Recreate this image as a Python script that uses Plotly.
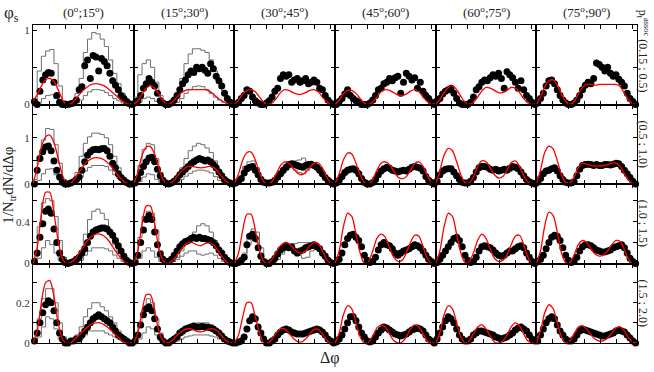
import numpy as np
import plotly.graph_objects as go
from plotly.subplots import make_subplots

PHI_S_BINS = [
    "(0<sup>o</sup>;15<sup>o</sup>)", "(15<sup>o</sup>;30<sup>o</sup>)", "(30<sup>o</sup>;45<sup>o</sup>)",
    "(45<sup>o</sup>;60<sup>o</sup>)", "(60<sup>o</sup>;75<sup>o</sup>)", "(75<sup>o</sup>;90<sup>o</sup>)",
]
PT_BINS = ["p<sub>t</sub><sup>assoc</sup> (0.15 ; 0.5)", "(0.5 ; 1.0)", "(1.0 ; 1.5)", "(1.5 ; 2.0)"]

Y_TOP = [1.07, 1.72, 0.76, 0.395]
Y_DTICK = [1.0, 1.0, 0.4, 0.2]      # labelled ticks
Y_MINOR = [0.5, 0.5, 0.2, 0.1]      # unlabelled ticks

# Δφ axis: from -1 to 2π-1 rad
DPHI_LO = -1.0
DPHI_HI = 2 * np.pi - 1.0
N_DOTS = 36
N_CURVE = 25
N_BAND = 24

# ---- data points (36 Δφ bins per panel) ----
DOTS_ROW1 = [
    [0.04, 0.0, 0.18, 0.33, 0.40, 0.43, 0.42, 0.30, 0.12, 0.03, 0.0, 0.0, 0.0, 0.01, 0.02, 0.06, 0.20, 0.24,
     0.52, 0.60, 0.35, 0.66, 0.64, 0.45, 0.62, 0.58, 0.52, 0.42, 0.32, 0.26, 0.20, 0.12, 0.08, 0.04, 0.01, 0.0],
    [0.02, 0.05, 0.12, 0.22, 0.28, 0.35, 0.3, 0.25, 0.15, 0.05, 0.02, 0.0, 0.0, 0.02, 0.06, 0.12, 0.2, 0.28,
     0.33, 0.4, 0.45, 0.43, 0.5, 0.48, 0.5, 0.46, 0.42, 0.55, 0.48, 0.38, 0.32, 0.25, 0.15, 0.08, 0.03, 0.0],
    [0.0, 0.03, 0.08, 0.12, 0.2, 0.18, 0.1, 0.05, 0.02, 0.0, 0.0, 0.02, 0.05, 0.1, 0.18, 0.22, 0.35, 0.4,
     0.38, 0.4, 0.3, 0.33, 0.35, 0.3, 0.32, 0.35, 0.28, 0.3, 0.33, 0.3, 0.22, 0.2, 0.12, 0.06, 0.02, 0.0],
    [0.0, 0.04, 0.08, 0.14, 0.2, 0.12, 0.08, 0.05, 0.03, 0.0, 0.0, 0.0, 0.02, 0.06, 0.12, 0.2, 0.22, 0.28,
     0.3, 0.35, 0.32, 0.36, 0.38, 0.15, 0.3, 0.42, 0.38, 0.33, 0.36, 0.22, 0.3, 0.18, 0.12, 0.08, 0.03, 0.0],
    [0.05, 0.08, 0.14, 0.18, 0.2, 0.22, 0.15, 0.08, 0.02, 0.0, 0.0, 0.0, 0.03, 0.1, 0.2, 0.24, 0.3, 0.33,
     0.32, 0.36, 0.4, 0.38, 0.42, 0.35, 0.22, 0.44, 0.4, 0.36, 0.3, 0.22, 0.32, 0.2, 0.12, 0.08, 0.03, 0.0],
    [0.02, 0.08, 0.15, 0.25, 0.32, 0.33, 0.28, 0.2, 0.12, 0.06, 0.02, 0.0, 0.0, 0.02, 0.06, 0.12, 0.2, 0.26,
     0.3, 0.28, 0.35, 0.56, 0.54, 0.5, 0.45, 0.5, 0.42, 0.38, 0.4, 0.34, 0.3, 0.25, 0.15, 0.08, 0.04, 0.0],
]
DOTS_ROW2 = [
    [0.0, 0.3, 0.55, 0.7, 0.8, 0.82, 0.72, 0.5, 0.3, 0.15, 0.04, 0.0, 0.0, 0.02, 0.05, 0.1, 0.15, 0.3,
     0.48, 0.62, 0.7, 0.74, 0.75, 0.74, 0.76, 0.77, 0.72, 0.6, 0.45, 0.35, 0.22, 0.14, 0.08, 0.03, 0.0, 0.0],
    [0.02, 0.12, 0.25, 0.38, 0.48, 0.56, 0.58, 0.48, 0.32, 0.18, 0.08, 0.02, 0.0, 0.02, 0.06, 0.12, 0.2, 0.26,
     0.32, 0.38, 0.44, 0.48, 0.52, 0.55, 0.53, 0.5, 0.52, 0.48, 0.42, 0.35, 0.26, 0.18, 0.1, 0.05, 0.02, 0.0],
    [0.02, 0.06, 0.12, 0.24, 0.33, 0.36, 0.38, 0.3, 0.2, 0.1, 0.04, 0.02, 0.02, 0.04, 0.08, 0.15, 0.22, 0.3,
     0.36, 0.42, 0.44, 0.42, 0.4, 0.38, 0.36, 0.4, 0.42, 0.43, 0.4, 0.36, 0.3, 0.22, 0.14, 0.08, 0.03, 0.0],
    [0.02, 0.08, 0.16, 0.25, 0.3, 0.32, 0.33, 0.3, 0.22, 0.12, 0.04, 0.0, 0.0, 0.03, 0.1, 0.2, 0.28, 0.33,
     0.36, 0.34, 0.3, 0.28, 0.26, 0.28, 0.3, 0.28, 0.32, 0.36, 0.38, 0.36, 0.34, 0.28, 0.16, 0.08, 0.03, 0.0],
    [0.06, 0.2, 0.28, 0.32, 0.33, 0.33, 0.26, 0.18, 0.1, 0.04, 0.02, 0.02, 0.06, 0.14, 0.26, 0.35, 0.38, 0.38,
     0.36, 0.32, 0.3, 0.32, 0.28, 0.3, 0.32, 0.3, 0.34, 0.38, 0.36, 0.33, 0.26, 0.18, 0.1, 0.05, 0.02, 0.0],
    [0.04, 0.12, 0.22, 0.28, 0.3, 0.33, 0.35, 0.28, 0.18, 0.1, 0.04, 0.02, 0.02, 0.05, 0.18, 0.32, 0.4, 0.42,
     0.43, 0.42, 0.4, 0.42, 0.4, 0.4, 0.42, 0.42, 0.41, 0.43, 0.45, 0.44, 0.38, 0.3, 0.22, 0.14, 0.06, 0.0],
]
DOTS_ROW3 = [
    [0.02, 0.1, 0.25, 0.38, 0.5, 0.52, 0.48, 0.33, 0.2, 0.1, 0.04, 0.01, 0.0, 0.01, 0.02, 0.04, 0.06, 0.1,
     0.14, 0.2, 0.26, 0.3, 0.32, 0.33, 0.34, 0.34, 0.33, 0.3, 0.27, 0.22, 0.17, 0.12, 0.07, 0.03, 0.01, 0.0],
    [0.01, 0.08, 0.2, 0.32, 0.42, 0.46, 0.42, 0.3, 0.18, 0.09, 0.04, 0.02, 0.02, 0.04, 0.08, 0.12, 0.16, 0.19,
     0.21, 0.22, 0.24, 0.25, 0.24, 0.25, 0.24, 0.24, 0.23, 0.22, 0.2, 0.17, 0.13, 0.1, 0.06, 0.03, 0.01, 0.0],
    [0.0, 0.01, 0.03, 0.06, 0.18, 0.26, 0.28, 0.24, 0.15, 0.07, 0.02, 0.0, 0.0, 0.02, 0.05, 0.09, 0.13, 0.15,
     0.17, 0.15, 0.16, 0.12, 0.1, 0.12, 0.13, 0.15, 0.16, 0.17, 0.18, 0.16, 0.14, 0.1, 0.07, 0.03, 0.01, 0.0],
    [0.01, 0.04, 0.1, 0.18, 0.24, 0.27, 0.28, 0.25, 0.22, 0.16, 0.08, 0.03, 0.01, 0.02, 0.06, 0.13, 0.18, 0.2,
     0.18, 0.17, 0.14, 0.1, 0.08, 0.1, 0.12, 0.13, 0.14, 0.16, 0.18, 0.17, 0.15, 0.12, 0.08, 0.04, 0.02, 0.0],
    [0.01, 0.04, 0.08, 0.12, 0.16, 0.2, 0.24, 0.25, 0.22, 0.16, 0.08, 0.03, 0.01, 0.02, 0.06, 0.12, 0.16, 0.17,
     0.16, 0.15, 0.13, 0.1, 0.08, 0.07, 0.08, 0.1, 0.12, 0.12, 0.14, 0.16, 0.17, 0.15, 0.1, 0.06, 0.02, 0.0],
    [0.02, 0.04, 0.08, 0.14, 0.2, 0.25, 0.27, 0.26, 0.22, 0.15, 0.08, 0.03, 0.01, 0.02, 0.06, 0.12, 0.16, 0.18,
     0.18, 0.17, 0.15, 0.13, 0.12, 0.11, 0.11, 0.12, 0.13, 0.15, 0.16, 0.17, 0.18, 0.15, 0.1, 0.05, 0.02, 0.0],
]
DOTS_ROW4 = [
    [0.01, 0.05, 0.1, 0.15, 0.19, 0.21, 0.2, 0.16, 0.1, 0.05, 0.02, 0.0, 0.0, 0.01, 0.01, 0.02, 0.02, 0.04,
     0.06, 0.08, 0.1, 0.12, 0.13, 0.14, 0.13, 0.12, 0.11, 0.1, 0.08, 0.06, 0.04, 0.03, 0.02, 0.01, 0.0, 0.0],
    [0.01, 0.04, 0.09, 0.14, 0.17, 0.18, 0.16, 0.12, 0.07, 0.03, 0.01, 0.0, 0.0, 0.01, 0.02, 0.03, 0.05, 0.06,
     0.07, 0.075, 0.08, 0.085, 0.08, 0.08, 0.082, 0.08, 0.078, 0.075, 0.07, 0.06, 0.05, 0.035, 0.02, 0.01, 0.005, 0.0],
    [0.0, 0.005, 0.01, 0.03, 0.07, 0.11, 0.13, 0.12, 0.08, 0.05, 0.02, 0.0, 0.0, 0.01, 0.02, 0.04, 0.055, 0.065,
     0.07, 0.065, 0.055, 0.05, 0.045, 0.045, 0.045, 0.05, 0.055, 0.06, 0.065, 0.07, 0.065, 0.055, 0.04, 0.02, 0.01, 0.0],
    [0.005, 0.02, 0.04, 0.07, 0.1, 0.13, 0.13, 0.11, 0.08, 0.05, 0.03, 0.01, 0.005, 0.01, 0.03, 0.05, 0.065, 0.08,
     0.075, 0.065, 0.055, 0.045, 0.04, 0.035, 0.04, 0.045, 0.055, 0.065, 0.07, 0.075, 0.07, 0.06, 0.04, 0.02, 0.01, 0.0],
    [0.02, 0.05, 0.08, 0.11, 0.13, 0.12, 0.1, 0.07, 0.04, 0.02, 0.01, 0.01, 0.02, 0.04, 0.05, 0.06, 0.06, 0.055,
     0.05, 0.045, 0.04, 0.03, 0.025, 0.02, 0.025, 0.03, 0.04, 0.05, 0.065, 0.075, 0.08, 0.07, 0.06, 0.04, 0.02, 0.01],
    [0.01, 0.04, 0.07, 0.1, 0.12, 0.13, 0.12, 0.09, 0.06, 0.04, 0.02, 0.01, 0.01, 0.02, 0.04, 0.06, 0.07, 0.065,
     0.06, 0.055, 0.05, 0.045, 0.04, 0.035, 0.035, 0.04, 0.045, 0.05, 0.06, 0.065, 0.06, 0.055, 0.04, 0.025, 0.01, 0.0],
]

# ---- model curves (red), 25 points per panel ----
RED_ROW1 = [
    [0.05, 0.13, 0.25, 0.33, 0.35, 0.31, 0.2, 0.07, 0.0, 0.01, 0.06, 0.13, 0.19, 0.24, 0.27, 0.28, 0.27, 0.25, 0.21, 0.16, 0.11, 0.06, 0.02, 0.0, 0.02],
    [0.0, 0.05, 0.14, 0.22, 0.25, 0.22, 0.14, 0.05, 0.0, 0.02, 0.08, 0.14, 0.18, 0.2, 0.2, 0.2, 0.2, 0.2, 0.18, 0.14, 0.09, 0.05, 0.02, 0.0, 0.02],
    [0.0, 0.06, 0.14, 0.19, 0.2, 0.17, 0.1, 0.03, 0.0, 0.02, 0.08, 0.16, 0.2, 0.19, 0.16, 0.14, 0.14, 0.16, 0.19, 0.2, 0.17, 0.1, 0.04, 0.0, 0.01],
    [0.0, 0.06, 0.14, 0.19, 0.19, 0.15, 0.08, 0.02, 0.0, 0.03, 0.1, 0.17, 0.2, 0.19, 0.16, 0.13, 0.12, 0.14, 0.18, 0.2, 0.17, 0.1, 0.04, 0.0, 0.02],
    [0.0, 0.07, 0.16, 0.23, 0.25, 0.2, 0.11, 0.03, 0.0, 0.03, 0.1, 0.18, 0.23, 0.22, 0.19, 0.16, 0.16, 0.19, 0.23, 0.22, 0.16, 0.08, 0.02, 0.0, 0.02],
    [0.0, 0.1, 0.24, 0.32, 0.33, 0.26, 0.14, 0.04, 0.0, 0.04, 0.14, 0.23, 0.27, 0.27, 0.26, 0.27, 0.27, 0.27, 0.27, 0.27, 0.24, 0.15, 0.06, 0.01, 0.0],
]
RED_ROW2 = [
    [0.0, 0.35, 0.8, 1.02, 1.06, 0.9, 0.55, 0.2, 0.02, 0.02, 0.12, 0.26, 0.39, 0.49, 0.55, 0.57, 0.56, 0.52, 0.44, 0.34, 0.22, 0.11, 0.03, 0.0, 0.0],
    [0.0, 0.25, 0.62, 0.8, 0.81, 0.65, 0.35, 0.1, 0.0, 0.03, 0.12, 0.24, 0.33, 0.38, 0.38, 0.36, 0.35, 0.36, 0.38, 0.36, 0.28, 0.16, 0.06, 0.01, 0.0],
    [0.0, 0.22, 0.52, 0.68, 0.69, 0.52, 0.25, 0.05, 0.0, 0.06, 0.22, 0.4, 0.48, 0.45, 0.35, 0.24, 0.2, 0.25, 0.36, 0.45, 0.46, 0.35, 0.15, 0.02, 0.0],
    [0.0, 0.22, 0.52, 0.67, 0.65, 0.45, 0.2, 0.03, 0.0, 0.1, 0.3, 0.45, 0.48, 0.42, 0.28, 0.15, 0.11, 0.16, 0.3, 0.44, 0.48, 0.38, 0.18, 0.03, 0.0],
    [0.0, 0.28, 0.62, 0.77, 0.72, 0.48, 0.2, 0.03, 0.02, 0.15, 0.38, 0.5, 0.48, 0.35, 0.2, 0.13, 0.16, 0.3, 0.46, 0.5, 0.38, 0.18, 0.04, 0.0, 0.0],
    [0.0, 0.3, 0.68, 0.82, 0.76, 0.5, 0.2, 0.03, 0.02, 0.15, 0.36, 0.45, 0.43, 0.4, 0.39, 0.39, 0.4, 0.42, 0.45, 0.45, 0.38, 0.22, 0.08, 0.02, 0.0],
]
RED_ROW3 = [
    [0.0, 0.15, 0.48, 0.68, 0.68, 0.48, 0.22, 0.05, 0.0, 0.01, 0.04, 0.1, 0.16, 0.22, 0.26, 0.28, 0.28, 0.26, 0.22, 0.16, 0.1, 0.05, 0.01, 0.0, 0.0],
    [0.0, 0.12, 0.38, 0.55, 0.55, 0.38, 0.15, 0.03, 0.0, 0.02, 0.06, 0.12, 0.17, 0.2, 0.2, 0.18, 0.17, 0.19, 0.2, 0.18, 0.13, 0.07, 0.02, 0.0, 0.0],
    [0.0, 0.1, 0.32, 0.47, 0.47, 0.32, 0.13, 0.02, 0.0, 0.04, 0.11, 0.17, 0.2, 0.19, 0.15, 0.11, 0.1, 0.12, 0.17, 0.2, 0.19, 0.12, 0.04, 0.0, 0.0],
    [0.0, 0.12, 0.35, 0.48, 0.45, 0.28, 0.1, 0.0, 0.02, 0.12, 0.24, 0.28, 0.25, 0.15, 0.06, 0.02, 0.03, 0.1, 0.2, 0.27, 0.26, 0.16, 0.05, 0.0, 0.0],
    [0.0, 0.12, 0.35, 0.48, 0.45, 0.28, 0.1, 0.01, 0.02, 0.1, 0.22, 0.28, 0.24, 0.14, 0.05, 0.02, 0.03, 0.08, 0.18, 0.26, 0.27, 0.18, 0.06, 0.0, 0.0],
    [0.0, 0.12, 0.36, 0.49, 0.46, 0.3, 0.1, 0.01, 0.01, 0.08, 0.18, 0.22, 0.2, 0.14, 0.09, 0.07, 0.08, 0.12, 0.18, 0.22, 0.21, 0.13, 0.04, 0.0, 0.0],
]
RED_ROW4 = [
    [0.0, 0.06, 0.2, 0.3, 0.31, 0.23, 0.1, 0.02, 0.0, 0.0, 0.02, 0.04, 0.06, 0.08, 0.095, 0.1, 0.1, 0.09, 0.075, 0.055, 0.035, 0.015, 0.0, 0.0, 0.0],
    [0.0, 0.05, 0.16, 0.24, 0.24, 0.16, 0.06, 0.01, 0.0, 0.01, 0.03, 0.05, 0.065, 0.072, 0.068, 0.058, 0.055, 0.06, 0.07, 0.07, 0.058, 0.035, 0.012, 0.0, 0.0],
    [0.0, 0.04, 0.13, 0.2, 0.2, 0.13, 0.05, 0.0, 0.0, 0.02, 0.05, 0.07, 0.07, 0.05, 0.025, 0.008, 0.005, 0.02, 0.045, 0.068, 0.068, 0.045, 0.015, 0.0, 0.0],
    [0.0, 0.05, 0.14, 0.185, 0.17, 0.1, 0.03, 0.0, 0.005, 0.035, 0.075, 0.09, 0.08, 0.045, 0.012, 0.0, 0.005, 0.03, 0.07, 0.09, 0.08, 0.045, 0.01, 0.0, 0.0],
    [0.0, 0.05, 0.14, 0.185, 0.17, 0.1, 0.03, 0.0, 0.01, 0.045, 0.08, 0.09, 0.07, 0.035, 0.005, 0.0, 0.01, 0.04, 0.08, 0.1, 0.085, 0.045, 0.01, 0.0, 0.0],
    [0.0, 0.06, 0.15, 0.19, 0.17, 0.1, 0.03, 0.0, 0.01, 0.045, 0.08, 0.085, 0.07, 0.04, 0.02, 0.01, 0.012, 0.025, 0.05, 0.075, 0.08, 0.06, 0.025, 0.005, 0.0],
]

# ---- systematic bands (gray steps, 24 bins), None where not drawn ----
BAND_HI_ROW1 = [
    [0.05, 0.45, 0.65, 0.72, 0.74, 0.55, 0.25, 0.05, 0.0, 0.02, 0.15, 0.35, 0.7, 0.88, 0.97, 0.95, 0.88, 0.78, 0.6, 0.42, 0.28, 0.15, 0.06, 0.02],
    [0.1, 0.4, 0.55, 0.6, 0.5, 0.3, 0.12, 0.02, 0.0, 0.03, 0.15, 0.35, 0.55, 0.68, 0.75, 0.75, 0.73, 0.7, 0.6, 0.45, 0.3, 0.18, 0.07, 0.02],
    None, None, None, None,
]
BAND_LO_ROW1 = [
    [0.0, 0.02, 0.08, 0.12, 0.13, 0.08, 0.03, 0.0, 0.0, 0.0, 0.02, 0.06, 0.12, 0.17, 0.2, 0.2, 0.19, 0.16, 0.12, 0.08, 0.05, 0.02, 0.0, 0.0],
    [0.0, 0.03, 0.08, 0.1, 0.08, 0.04, 0.0, 0.0, 0.0, 0.0, 0.03, 0.08, 0.15, 0.2, 0.24, 0.25, 0.24, 0.2, 0.15, 0.1, 0.06, 0.03, 0.0, 0.0],
    None, None, None, None,
]
BAND_HI_ROW2 = [
    [0.1, 0.6, 0.95, 1.2, 1.18, 0.85, 0.45, 0.1, 0.0, 0.05, 0.25, 0.6, 0.88, 1.02, 1.1, 1.1, 1.07, 1.0, 0.85, 0.6, 0.35, 0.15, 0.05, 0.0],
    [0.05, 0.4, 0.75, 0.88, 0.85, 0.55, 0.25, 0.05, 0.0, 0.03, 0.15, 0.35, 0.55, 0.72, 0.82, 0.88, 0.85, 0.78, 0.68, 0.5, 0.3, 0.15, 0.05, 0.0],
    [0.03, 0.15, 0.38, 0.48, 0.5, 0.35, 0.15, 0.03, 0.02, 0.05, 0.15, 0.3, 0.42, 0.48, 0.5, 0.52, 0.56, 0.45, 0.43, 0.38, 0.3, 0.16, 0.06, 0.0],
    None, None, None,
]
BAND_LO_ROW2 = [
    [0.0, 0.08, 0.22, 0.32, 0.33, 0.2, 0.08, 0.0, 0.0, 0.0, 0.05, 0.15, 0.28, 0.36, 0.4, 0.4, 0.4, 0.38, 0.3, 0.2, 0.12, 0.05, 0.02, 0.0],
    [0.0, 0.05, 0.15, 0.22, 0.2, 0.1, 0.03, 0.0, 0.0, 0.0, 0.03, 0.1, 0.17, 0.23, 0.28, 0.3, 0.3, 0.28, 0.24, 0.16, 0.08, 0.03, 0.0, 0.0],
    [0.0, 0.08, 0.2, 0.3, 0.33, 0.25, 0.1, 0.02, 0.0, 0.03, 0.1, 0.22, 0.3, 0.35, 0.3, 0.25, 0.22, 0.3, 0.38, 0.33, 0.25, 0.12, 0.04, 0.0],
    None, None, None,
]
BAND_HI_ROW3 = [
    [0.05, 0.35, 0.58, 0.62, 0.6, 0.45, 0.22, 0.06, 0.0, 0.01, 0.04, 0.12, 0.28, 0.42, 0.5, 0.52, 0.48, 0.42, 0.3, 0.18, 0.1, 0.04, 0.01, 0.0],
    [0.02, 0.25, 0.45, 0.5, 0.48, 0.32, 0.12, 0.03, 0.0, 0.02, 0.06, 0.12, 0.18, 0.25, 0.3, 0.36, 0.38, 0.36, 0.3, 0.22, 0.12, 0.05, 0.01, 0.0],
    [0.0, 0.03, 0.1, 0.28, 0.33, 0.3, 0.15, 0.04, 0.0, 0.02, 0.07, 0.12, 0.16, 0.18, 0.19, 0.2, 0.2, 0.2, 0.18, 0.18, 0.15, 0.1, 0.03, 0.0],
    None, None, None,
]
BAND_LO_ROW3 = [
    [0.0, 0.05, 0.15, 0.22, 0.18, 0.1, 0.03, 0.0, 0.0, 0.0, 0.01, 0.03, 0.08, 0.12, 0.15, 0.15, 0.15, 0.14, 0.12, 0.08, 0.05, 0.02, 0.0, 0.0],
    [0.0, 0.05, 0.12, 0.15, 0.12, 0.06, 0.02, 0.0, 0.0, 0.02, 0.04, 0.07, 0.1, 0.12, 0.12, 0.09, 0.08, 0.09, 0.1, 0.08, 0.05, 0.02, 0.0, 0.0],
    [0.0, 0.01, 0.04, 0.18, 0.24, 0.2, 0.1, 0.02, 0.0, 0.01, 0.04, 0.09, 0.13, 0.14, 0.12, 0.08, 0.05, 0.06, 0.12, 0.15, 0.13, 0.08, 0.02, 0.0],
    None, None, None,
]
BAND_HI_ROW4 = [
    [0.02, 0.12, 0.22, 0.27, 0.27, 0.2, 0.1, 0.03, 0.0, 0.01, 0.04, 0.08, 0.13, 0.17, 0.2, 0.2, 0.18, 0.16, 0.13, 0.1, 0.06, 0.03, 0.01, 0.0],
    [0.02, 0.1, 0.17, 0.22, 0.2, 0.12, 0.05, 0.01, 0.0, 0.01, 0.02, 0.04, 0.06, 0.08, 0.09, 0.1, 0.1, 0.1, 0.09, 0.07, 0.05, 0.03, 0.01, 0.0],
    None, None, None, None,
]
BAND_LO_ROW4 = [
    [0.0, 0.03, 0.08, 0.13, 0.12, 0.07, 0.02, 0.0, 0.0, 0.0, 0.01, 0.02, 0.04, 0.06, 0.06, 0.06, 0.06, 0.05, 0.04, 0.03, 0.02, 0.01, 0.0, 0.0],
    [0.0, 0.02, 0.05, 0.08, 0.07, 0.04, 0.01, 0.0, 0.0, 0.0, 0.01, 0.02, 0.03, 0.035, 0.04, 0.04, 0.04, 0.04, 0.035, 0.03, 0.02, 0.01, 0.0, 0.0],
    None, None, None, None,
]

DOTS = [DOTS_ROW1, DOTS_ROW2, DOTS_ROW3, DOTS_ROW4]
RED = [RED_ROW1, RED_ROW2, RED_ROW3, RED_ROW4]
BAND_HI = [BAND_HI_ROW1, BAND_HI_ROW2, BAND_HI_ROW3, BAND_HI_ROW4]
BAND_LO = [BAND_LO_ROW1, BAND_LO_ROW2, BAND_LO_ROW3, BAND_LO_ROW4]

bin_w = (DPHI_HI - DPHI_LO) / N_DOTS
x_dots = DPHI_LO + (np.arange(N_DOTS) + 0.5) * bin_w
x_curve = np.linspace(DPHI_LO, DPHI_HI, N_CURVE)
x_edges = np.linspace(DPHI_LO, DPHI_HI, N_BAND + 1)

SERIF = "Liberation Serif"

fig = make_subplots(rows=4, cols=6, horizontal_spacing=0, vertical_spacing=0)

for r in range(4):
    for c in range(6):
        hi = BAND_HI[r][c]
        lo = BAND_LO[r][c]
        if hi is not None:
            for band in (hi, lo):
                fig.add_trace(go.Scatter(
                    x=x_edges, y=list(band) + [band[-1]],
                    mode="lines", line=dict(color="#6e6e6e", width=1, shape="hv"),
                    showlegend=False, hoverinfo="skip",
                ), row=r + 1, col=c + 1)
        fig.add_trace(go.Scatter(
            x=x_dots, y=DOTS[r][c], mode="markers",
            marker=dict(color="black", size=7),
            cliponaxis=False, showlegend=False,
        ), row=r + 1, col=c + 1)
        fig.add_trace(go.Scatter(
            x=x_curve, y=RED[r][c], mode="lines",
            line=dict(color="#ff0000", width=1.3, shape="spline", smoothing=0.8),
            showlegend=False,
        ), row=r + 1, col=c + 1)

fig.update_xaxes(
    range=[DPHI_LO, DPHI_HI], tickvals=[0, 1, 2, 3, 4, 5], showticklabels=False,
    ticks="inside", ticklen=4, tickcolor="black", showline=True, linecolor="black",
    linewidth=1, mirror="ticks", showgrid=False, zeroline=False,
)
for r in range(4):
    for c in range(6):
        fig.update_yaxes(
            range=[0, Y_TOP[r]], tick0=0, dtick=Y_DTICK[r],
            minor=dict(tick0=0, dtick=Y_MINOR[r], ticks="inside", ticklen=4,
                       tickcolor="black", showgrid=False),
            showticklabels=(c == 0), ticks="inside", ticklen=4, tickcolor="black",
            showline=True, linecolor="black", linewidth=1, mirror="ticks",
            showgrid=False, zeroline=False,
            tickfont=dict(family=SERIF, size=11, color="#333"),
            row=r + 1, col=c + 1,
        )


def label(x, y, text, size, angle=0):
    return dict(
        x=x, y=y, xref="paper", yref="paper", text=text, textangle=angle,
        xanchor="center", yanchor="middle", showarrow=False,
        font=dict(family=SERIF, size=size, color="#222"),
    )


annotations = [label((c + 0.5) / 6, 1.041, t, 13) for c, t in enumerate(PHI_S_BINS)]
row_centres = [0.918, 0.626, 0.377, 0.126]
annotations += [label(1.0105, row_centres[r], t, 12, 90) for r, t in enumerate(PT_BINS)]
annotations.append(label(-0.035, 1.035, "φ<sub>s</sub>", 17))
annotations.append(label(-0.04, 0.497, "1/N<sub>tr</sub>dN/dΔφ", 15, -90))
annotations.append(label(0.492, -0.046, "Δφ", 16))

fig.update_layout(
    width=654, height=372,
    margin=dict(l=33, r=17, t=25, b=29),
    paper_bgcolor="white", plot_bgcolor="white",
    annotations=annotations,
    showlegend=False,
)

# page body has a default 8px margin; drop it so the figure sits at the window corner
fig.write_html(
    "out.html",
    config={"displayModeBar": False},
    post_script="document.body.style.margin='0';",
)
